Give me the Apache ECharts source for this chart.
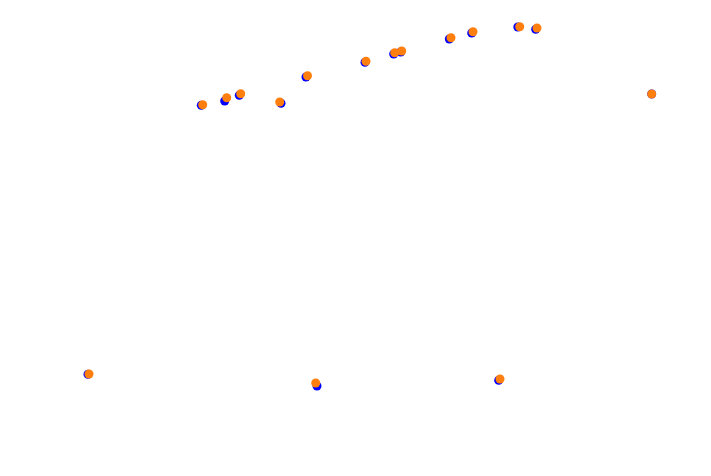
<!DOCTYPE html>
<html><head><meta charset="utf-8">
<script src="https://cdn.jsdelivr.net/npm/echarts@6/dist/echarts.min.js"></script>
<style>html,body{margin:0;padding:0;background:#fff}#c{width:711px;height:476px}</style>
</head><body><div id="c"></div>
<script>
// point positions (arbitrary units)
const blueX = [88, 201.3, 224.7, 239.3, 281, 306, 317, 365, 393.7, 400.7, 449.3, 471.7, 498.7, 517.8, 535.7, 651.7];
const blueY = [374.3, 105.3, 101, 95.3, 103.3, 77, 386, 62.3, 54, 52, 39, 33, 380.3, 27, 29.3, 94];
const orangeX = [89, 202.7, 226.7, 240.7, 279.7, 307.5, 315.7, 366, 394.7, 401.7, 451, 473, 500, 519.7, 537, 651.7];
const orangeY = [374, 104.7, 97.7, 93.7, 102, 75.7, 383, 61.3, 52.7, 51, 37.7, 31.7, 379, 26.7, 28, 94];

const pairs = (xs, ys) => xs.map((x, i) => [x, ys[i]]);
const chart = echarts.init(document.getElementById('c'));
chart.setOption({
  animation: false,
  backgroundColor: '#ffffff',
  grid: {left: 0, right: 0, top: 0, bottom: 0},
  xAxis: {type: 'value', min: 0, max: 711, show: false},
  yAxis: {type: 'value', min: 0, max: 476, inverse: true, show: false},
  series: [
    {type: 'scatter', data: pairs(blueX, blueY), symbolSize: 9, itemStyle: {color: '#0000ff', opacity: 1}},
    {type: 'scatter', data: pairs(orangeX, orangeY), symbolSize: 9, itemStyle: {color: '#ff7f0e', opacity: 1}}
  ]
});
</script></body></html>
